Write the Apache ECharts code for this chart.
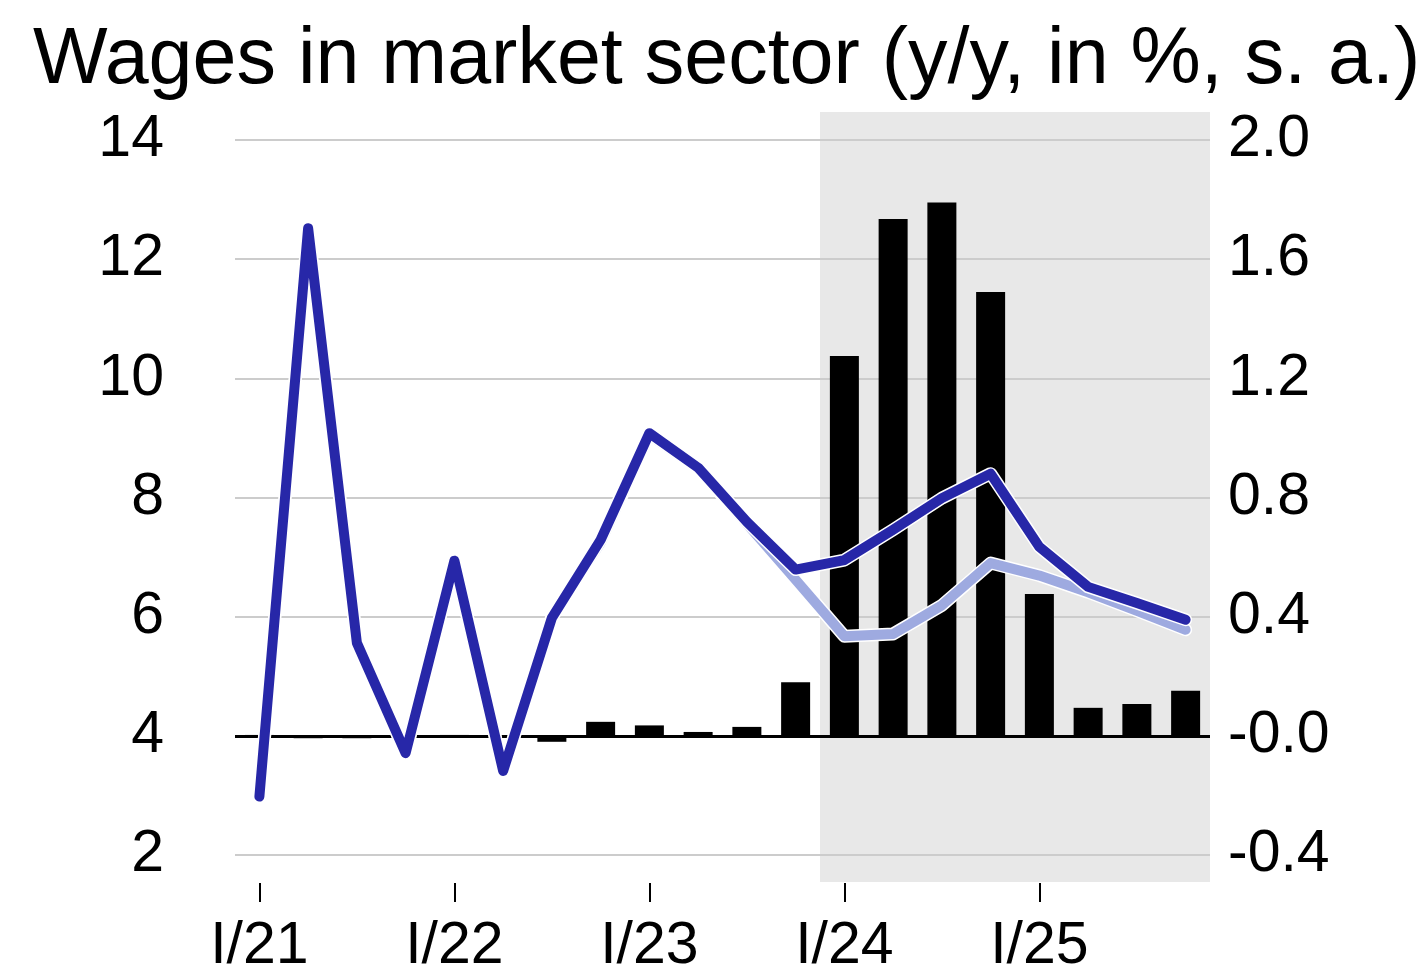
<!DOCTYPE html>
<html>
<head>
<meta charset="utf-8">
<script src="https://cdn.jsdelivr.net/npm/echarts@6/dist/echarts.min.js"></script>
<style>
  html, body { margin: 0; padding: 0; background: #fff; }
  #chart { width: 1424px; height: 969px; }
</style>
</head>
<body>
<div id="chart"></div>
<script>
const titleText = 'Wages in market sector (y/y, in %, s. a.)';
const categories = ['I/21','II/21','III/21','IV/21','I/22','II/22','III/22','IV/22',
                    'I/23','II/23','III/23','IV/23','I/24','II/24','III/24','IV/24',
                    'I/25','II/25','III/25','IV/25'];
// current forecast (left axis, %)
const wagesCurrent = [2.98, 12.52, 5.56, 3.71, 6.94, 3.41, 5.98, 7.29, 9.08, 8.50,
                      7.59, 6.79, 6.95, 7.46, 7.99, 8.40, 7.17, 6.50, 6.23, 5.95];
// previous forecast (left axis, %)
const wagesPrevious = [2.98, 12.53, 5.57, 3.71, 6.94, 3.41, 6.00, 7.24, 9.05, 8.49,
                       7.56, 6.62, 5.67, 5.71, 6.19, 6.90, 6.69, 6.41, 6.10, 5.78];
// difference (right axis, pp)
const difference = [0.003, -0.008, -0.008, 0.002, 0.003, 0.002, -0.02, 0.047, 0.035, 0.013,
                    0.03, 0.18, 1.275, 1.735, 1.79, 1.49, 0.476, 0.094, 0.107, 0.151];
const leftTicks = {min: 2, max: 14, interval: 2};
const rightTicks = {min: -0.4, max: 2.0, interval: 0.4};
const forecastStart = 12; // index of I/24
const forecastEnd = 20;

const FONT = "'Liberation Sans', Arial, Helvetica, sans-serif";
const chart = echarts.init(document.getElementById('chart'), null, {renderer: 'canvas'});

const option = {
  animation: false,
  backgroundColor: '#ffffff',
  title: {
    text: titleText,
    left: 28,
    top: 17,
    textStyle: {fontFamily: FONT, fontSize: 79, fontWeight: 'normal', color: '#000'}
  },
  grid: [
    {left: 235, right: 214, top: 140, bottom: 114, outerBoundsMode: 'none', containLabel: false},
    {left: 235, right: 214, top: 112, bottom: 87, outerBoundsMode: 'none', containLabel: false}
  ],
  xAxis: [
    {
      type: 'category', gridIndex: 0, data: categories, boundaryGap: true,
      offset: 28,
      axisLine: {show: false, onZero: false},
      axisTick: {show: true, alignWithLabel: true, length: 19,
                 interval: (i) => i % 4 === 0,
                 lineStyle: {color: '#000', width: 2}},
      axisLabel: {interval: (i) => i % 4 === 0, margin: 34, color: '#000',
                  fontFamily: FONT, fontSize: 59},
      splitLine: {show: false}
    },
    {type: 'value', gridIndex: 1, min: 0, max: forecastEnd, show: false}
  ],
  yAxis: [
    {
      type: 'value', gridIndex: 0, position: 'left', z: 1,
      min: leftTicks.min, max: leftTicks.max, interval: leftTicks.interval,
      axisLine: {show: false}, axisTick: {show: false},
      axisLabel: {margin: 71, color: '#000', fontFamily: FONT, fontSize: 59},
      splitLine: {lineStyle: {color: '#cccccc', width: 2}}
    },
    {
      type: 'value', gridIndex: 0, position: 'right', z: 1,
      min: rightTicks.min, max: rightTicks.max, interval: rightTicks.interval,
      axisLine: {show: false}, axisTick: {show: false},
      axisLabel: {margin: 18, color: '#000', fontFamily: FONT, fontSize: 59,
                  formatter: (v) => Math.abs(v) < 1e-9 ? '-0.0' : v.toFixed(1)},
      splitLine: {show: false}
    },
    {type: 'value', gridIndex: 1, min: 0, max: 1, show: false}
  ],
  series: [
    {
      type: 'line', xAxisIndex: 1, yAxisIndex: 2, data: [], z: -10, silent: true,
      markArea: {silent: true, z: -10, itemStyle: {color: '#e8e8e8'},
                 data: [[{xAxis: forecastStart}, {xAxis: forecastEnd}]]}
    },
    {
      type: 'bar', xAxisIndex: 0, yAxisIndex: 1, data: difference, barWidth: 29,
      itemStyle: {color: '#000'}, silent: true, z: 2,
      markLine: {symbol: 'none', silent: true, z: 2, label: {show: false},
                 lineStyle: {color: '#000', width: 3, type: 'solid'},
                 data: [{yAxis: 0}]}
    },
    {
      type: 'line', xAxisIndex: 0, yAxisIndex: 0, data: wagesPrevious, symbol: 'none', z: 3,
      lineStyle: {color: '#ffffff', width: 13, cap: 'round', join: 'round'}, silent: true
    },
    {
      type: 'line', xAxisIndex: 0, yAxisIndex: 0, data: wagesPrevious, symbol: 'none', z: 4,
      lineStyle: {color: '#9eaae0', width: 10, cap: 'round', join: 'round'}, silent: true
    },
    {
      type: 'line', xAxisIndex: 0, yAxisIndex: 0, data: wagesCurrent, symbol: 'none', z: 5,
      lineStyle: {color: '#ffffff', width: 13, cap: 'round', join: 'round'}, silent: true
    },
    {
      type: 'line', xAxisIndex: 0, yAxisIndex: 0, data: wagesCurrent, symbol: 'none', z: 6,
      lineStyle: {color: '#2727a8', width: 10, cap: 'round', join: 'round'}, silent: true
    }
  ]
};
chart.setOption(option);
</script>
</body>
</html>
